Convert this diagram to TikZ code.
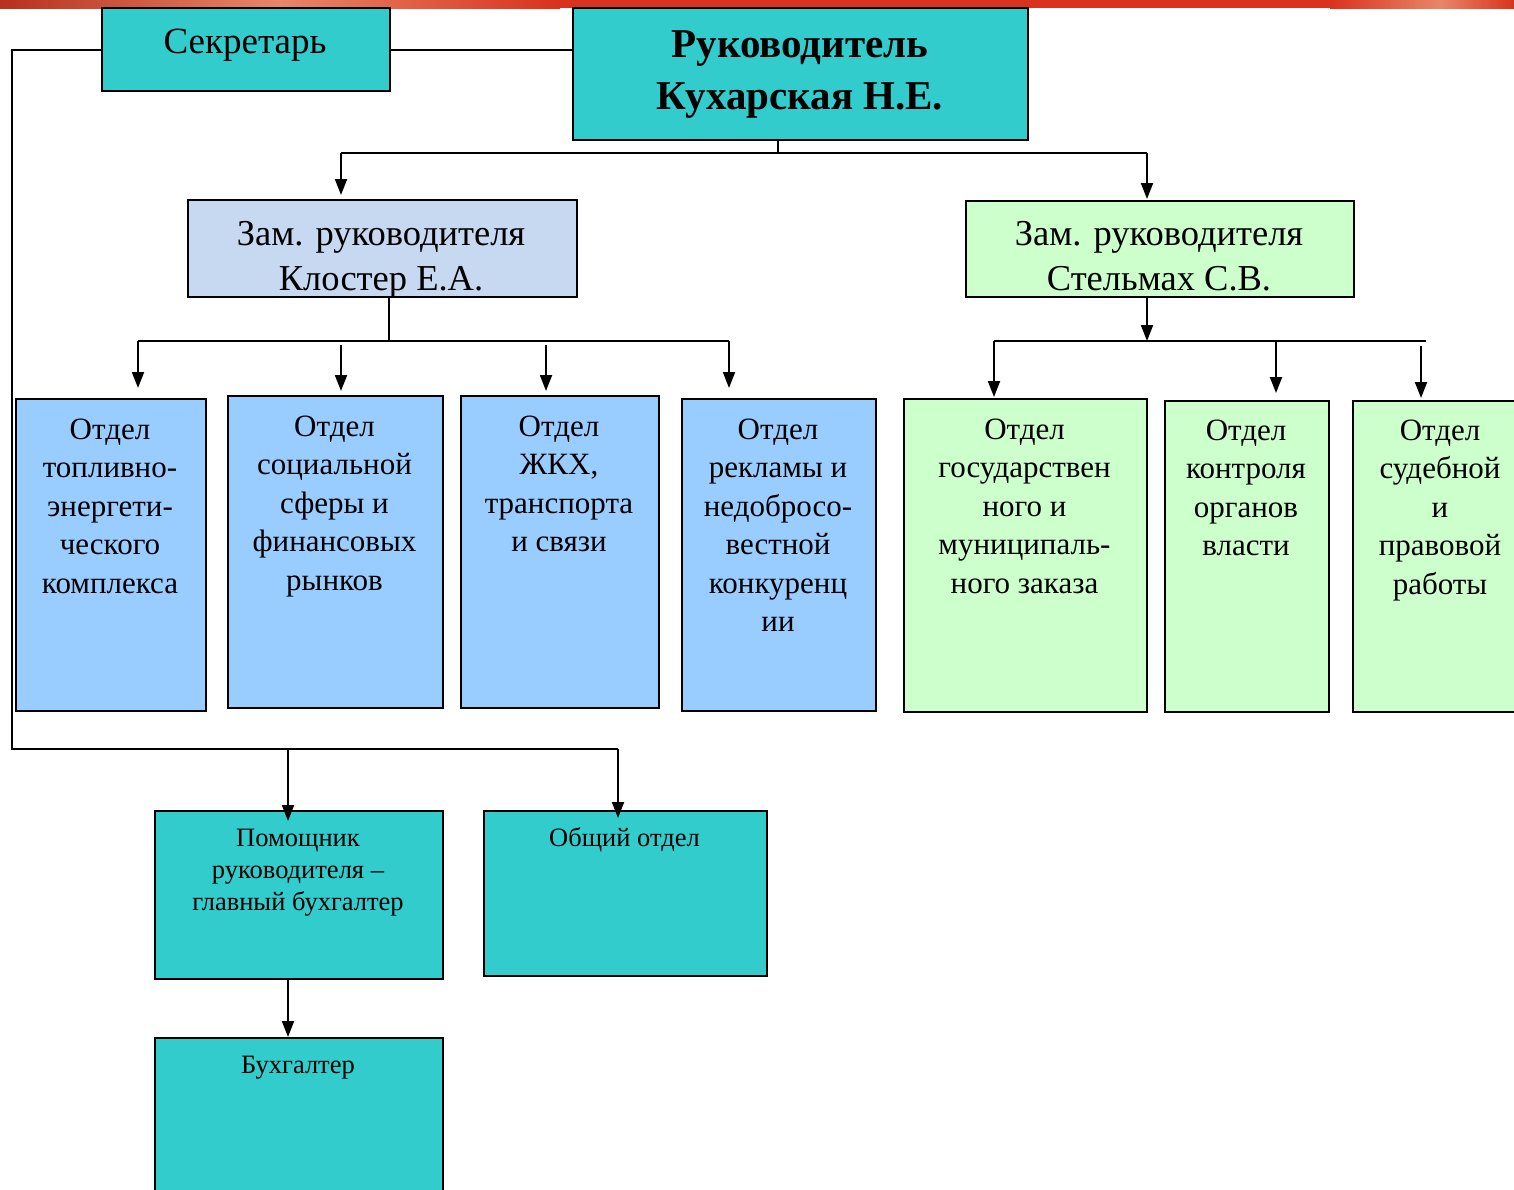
\documentclass[tikz,border=0pt]{standalone}
\usepackage{fontspec}
\setmainfont{Liberation Serif}
\usetikzlibrary{arrows.meta}
\definecolor{cteal}{HTML}{33CCCC}
\definecolor{cklost}{HTML}{C6D9F1}
\definecolor{cblue}{HTML}{99CCFF}
\definecolor{cgreen}{HTML}{CCFFCC}
\definecolor{redA}{HTML}{B8301E}
\definecolor{redB}{HTML}{E8866A}
\definecolor{redC}{HTML}{D9321E}
\newcommand\bx[6]{\node[box,fill=#6,anchor=north west,minimum width={#4-#2},minimum height={#5-#3}] (#1) at (#2,#3) {};}
\begin{document}
\begin{tikzpicture}[x=1pt,y=-1pt,
  box/.style={draw=black,line width=2pt,inner sep=0pt},
  conn/.style={line width=2pt},
  arr/.style={conn,-{Triangle[length=16pt,width=12pt]}},
  dtxt/.style={align=center,inner sep=0pt,anchor=base,font=\fontsize{31}{38.5}\selectfont},
  ztxt/.style={align=center,inner sep=0pt,anchor=base,font=\fontsize{36.5}{45}\selectfont},
  htxt/.style={align=center,inner sep=0pt,anchor=base,font=\bfseries\fontsize{41}{52}\selectfont},
  stxt/.style={align=center,inner sep=0pt,anchor=base,font=\fontsize{26.5}{32}\selectfont}]
\useasboundingbox (0,0) rectangle (1514,1189);
\clip (0,0) rectangle (1514,1189);
\fill[white] (0,0) rectangle (1514,1189);
% top bar
\shade[left color=redA,right color=redB] (0,0) rectangle (280,8);
\shade[left color=redB,right color=redC] (280,0) rectangle (560,8);
\fill[redC] (560,0) rectangle (1330,8);
\shade[left color=redC,right color=redB] (1330,0) rectangle (1440,8);
\shade[left color=redB,right color=redC] (1440,0) rectangle (1514,8);
% boxes
\bx{sec}{101}{7}{389}{90}{cteal}
\bx{head}{572}{7}{1027}{139}{cteal}
\bx{zamA}{187}{199}{576}{296}{cklost}
\bx{zamB}{965}{200}{1353}{296}{cgreen}
\bx{dA}{15}{398}{205}{710}{cblue}
\bx{dB}{227}{395}{442}{707}{cblue}
\bx{dC}{460}{395}{658}{707}{cblue}
\bx{dD}{681}{398}{875}{710}{cblue}
\bx{dE}{903}{398}{1146}{711}{cgreen}
\bx{dF}{1164}{400}{1328}{711}{cgreen}
\bx{dG}{1352}{400}{1530}{711}{cgreen}
\bx{pom}{154}{810}{442}{978}{cteal}
\bx{obs}{483}{810}{766}{975}{cteal}
\bx{buh}{154}{1037}{442}{1200}{cteal}
% texts (anchor = baseline of the last line)
\node[stxt,font=\fontsize{37}{40}\selectfont] (tsec) at (245,53) {Секретарь};
\node[htxt] (thead) at (800,109) {Руководитель\\Кухарская Н.Е.};
\node[ztxt] (tzamA) at (381,290) {Зам. руководителя\\Клостер Е.А.};
\node[ztxt] (tzamB) at (1159,290) {Зам. руководителя\\Стельмах С.В.};
\node[dtxt] (tdA) at (110,593) {Отдел\\топливно-\\энергети-\\ческого\\комплекса};
\node[dtxt] (tdB) at (334.5,590) {Отдел\\социальной\\сферы и\\финансовых\\рынков};
\node[dtxt] (tdC) at (559,551.5) {Отдел\\ЖКХ,\\транспорта\\и связи};
\node[dtxt] (tdD) at (778,631.5) {Отдел\\рекламы и\\недобросо-\\вестной\\конкуренц\\ии};
\node[dtxt] (tdE) at (1024.5,593) {Отдел\\государствен\\ного и\\муниципаль-\\ного заказа};
\node[dtxt] (tdF) at (1246,555.5) {Отдел\\контроля\\органов\\власти};
\node[dtxt] (tdG) at (1440,594) {Отдел\\судебной\\и\\правовой\\работы};
\node[stxt] (tpom) at (298,910) {Помощник\\руководителя –\\главный бухгалтер};
\node[stxt] (tobs) at (624.5,846) {Общий отдел};
\node[stxt] (tbuh) at (298,1073) {Бухгалтер};
% junction coordinates
\coordinate (hj) at (778,153);
\coordinate (hl) at (341,153);
\coordinate (hr) at (1147,153);
\coordinate (aj) at (389,341);
\coordinate (al) at (138,341);
\coordinate (ar) at (729,341);
\coordinate (bj) at (1147,341);
\coordinate (bl) at (994,341);
\coordinate (br) at (1426,341);
\coordinate (sl) at (12,749);
\coordinate (sr) at (618,749);
\coordinate (sm) at (288,749);
% connectors
\draw[conn] (sec.east) -- (head.west |- sec.east);
\draw[conn] (sec.west) -- (sl |- sec.west) -- (sl) -- (sr);
\draw[arr,shorten >=-11pt] (sm) -- (sm |- pom.north);
\draw[arr,shorten >=-8pt] (sr) -- (sr |- obs.north);
\draw[conn] (head.south -| hj) -- (hj);
\draw[conn] (hl) -- (hr);
\draw[arr,shorten >=4pt] (hl) -- (hl |- zamA.north);
\draw[arr,shorten >=1pt] (hr) -- (hr |- zamB.north);
\draw[conn] (zamA.south -| aj) -- (aj);
\draw[conn] (al) -- (ar);
\draw[arr,shorten >=10pt] (al) -- (al |- dA.north);
\draw[arr,shorten >=4pt,shorten <=4pt] (341,341) -- (341,0 |- dB.north);
\draw[arr,shorten >=4pt,shorten <=4pt] (546,341) -- (546,0 |- dC.north);
\draw[arr,shorten >=10pt] (ar) -- (ar |- dD.north);
\draw[arr] (zamB.south -| bj) -- (bj);
\draw[conn] (bl) -- (br);
\draw[arr,shorten >=1pt] (bl) -- (bl |- dE.north);
\draw[arr,shorten >=7pt] (1276,341) -- (1276,0 |- dF.north);
\draw[arr,shorten >=2pt,shorten <=5pt] (1421,341) -- (1421,0 |- dG.north);
\draw[arr] (pom.south -| sm) -- (sm |- buh.north);
\end{tikzpicture}
\end{document}
